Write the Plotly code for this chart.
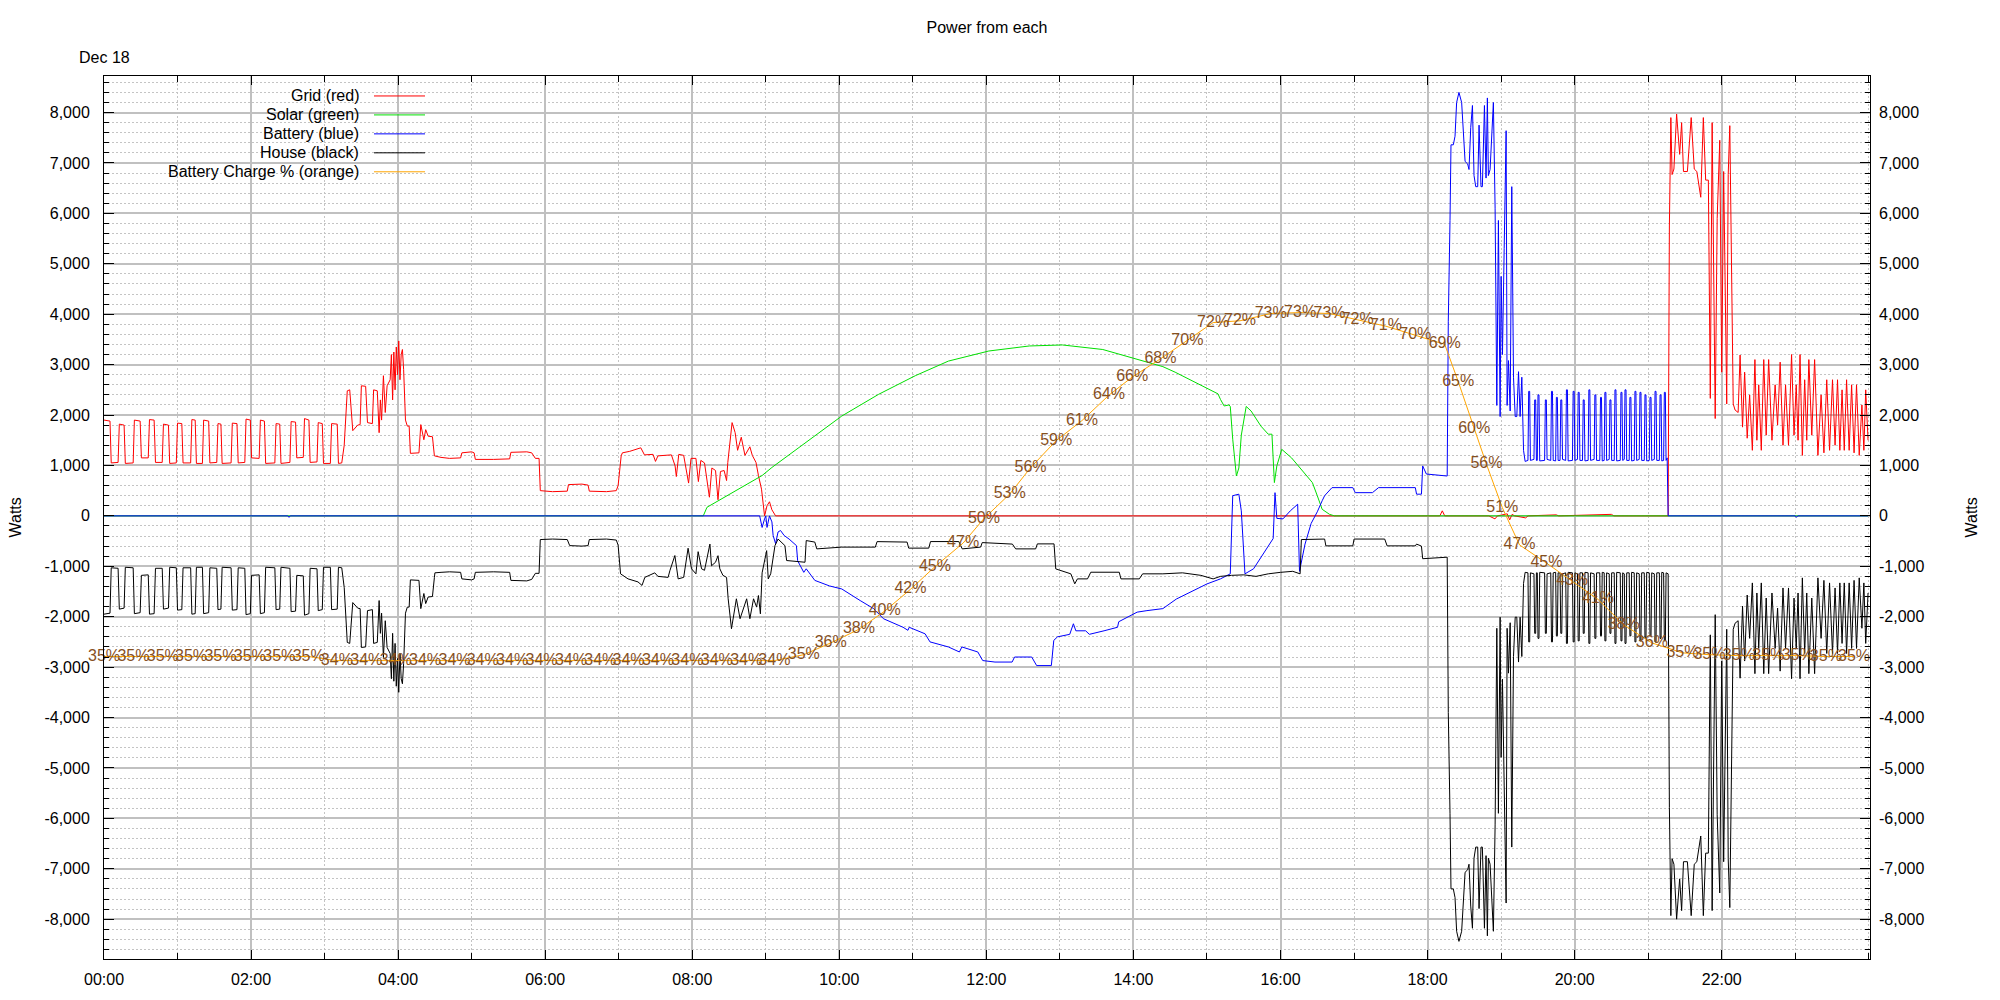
import plotly.graph_objects as go

# ---------------- data (time = minutes after midnight, values = watts) ----------------
grid_pts = [
    (0, 1900), (4.9, 1880), (5.9, 1050), (11.5, 1060), (12.5, 1820), (16.4, 1800), (17.4, 1040),
    (23.8, 1050), (24.8, 1900), (29.5, 1880), (30.5, 1150), (36.1, 1150), (37.1, 1910), (40.9, 1900),
    (42, 1060), (47.5, 1060), (48.5, 1820), (52.6, 1800), (53.6, 1040), (59, 1050), (60, 1840),
    (63.5, 1830), (64.5, 1050), (70.7, 1050), (71.7, 1910), (74.4, 1900), (75.4, 1040), (80.3, 1040),
    (81.3, 1900), (85.4, 1880), (86.4, 1050), (92, 1060), (93, 1830), (95.4, 1820), (96.4, 1040),
    (103.7, 1050), (104.7, 1840), (108.5, 1830), (109.5, 1050), (114.9, 1060), (115.9, 1920),
    (119.4, 1900), (120.4, 1150), (126.6, 1140), (127.6, 1900), (130.9, 1880), (131.9, 1040),
    (139.4, 1050), (140.4, 1830), (143.4, 1820), (144.4, 1040), (151.7, 1060), (152.7, 1870),
    (156.3, 1860), (157.3, 1150), (162.6, 1160), (163.6, 1930), (167.2, 1900), (168.2, 1060),
    (173.8, 1070), (174.8, 1850), (178.1, 1830), (179.1, 1040), (184.7, 1040), (185.7, 1830),
    (190.3, 1820), (191.3, 1040), (194, 1050),
    (196, 1400), (198.5, 2480), (200.5, 2500), (203, 1690), (207, 1800), (209, 1810), (210, 2580),
    (213.5, 2570), (215, 1850), (219, 1830), (220, 2500), (223, 2480), (224.5, 1650), (225.5, 2300),
    (226.5, 1900), (228, 2780), (229.5, 2050), (231, 2580), (233.5, 2700), (234.5, 3200), (235.5, 2300),
    (236.5, 3250), (237.5, 2500), (238.5, 3350), (239.5, 2800), (240.5, 3470), (241.5, 2700),
    (242.5, 3200), (243.5, 3300), (244.5, 2900), (246, 1900), (247.5, 1780), (249, 1780), (250, 1240),
    (257, 1250), (258.5, 1810), (261, 1510), (262.5, 1710), (264.5, 1580), (268, 1570), (269.6, 1190),
    (275, 1160), (282, 1140), (291, 1150), (292, 1250), (300, 1270), (302, 1250), (303, 1120),
    (318, 1120), (331, 1130), (332, 1260), (345, 1270), (349, 1250), (352, 1140), (355, 1140),
    (356, 500), (366, 480), (378, 490), (379, 620), (390, 630), (395, 610), (396, 490), (410, 480),
    (418, 500), (419.5, 600), (422, 1190), (423, 1250), (429, 1280), (438, 1350), (441, 1210),
    (448, 1220), (450, 1080), (452, 1190), (460, 1200), (463, 1210), (466, 990), (467, 780),
    (469, 1220), (473, 1200), (477, 650), (479, 1140), (483, 1140), (485, 680), (487, 1100),
    (490, 1050), (494, 370), (496, 950), (499, 900), (501, 320), (503, 880), (506, 900), (508, 700),
    (509, 1060), (512.5, 1850), (515, 1650), (517, 1300), (520, 1560), (523, 1200), (527, 1370),
    (529, 1200), (532, 1060), (534, 800), (536.5, 530), (539, 0), (541, 200), (543, 280), (545, 120),
    (548, 0), (720, 0), (721, 30), (722, 0), (1090, 0), (1092, 100), (1094, 0), (1130, 0),
    (1135, -60), (1137, 0), (1145, 40), (1147, -80), (1149, 30), (1151, 0), (1160, -40), (1162, 0),
    (1185, 20), (1187, 0), (1230, 30), (1232, 0), (1276.3, 0),
    (1277.3, 5750), (1278.5, 7900), (1279.5, 6770), (1281, 6880), (1283.2, 7970), (1285.7, 7170),
    (1287.3, 7800), (1288.8, 6830), (1292, 6830), (1295.1, 7900), (1297.6, 6880), (1299.7, 6830),
    (1302.9, 6320), (1305, 7900), (1306.9, 6660), (1309.1, 6660), (1310.7, 2330), (1312.2, 7800),
    (1314.7, 1930), (1316.3, 5900), (1318.4, 7450), (1320, 2850), (1321.6, 6830), (1324.1, 2220),
    (1325.3, 6770), (1326.6, 7740), (1328.4, 4500), (1329.4, 2220), (1330.9, 2100), (1333.4, 2050),
    (1335, 3190), (1337, 1760), (1338.7, 2850), (1340.8, 1540), (1342.8, 2400), (1345, 1300),
    (1347.1, 3100), (1348.7, 1500), (1350.2, 2600), (1352.3, 1300), (1354.3, 3100), (1356.3, 1600),
    (1358.3, 3100), (1361, 1500), (1363.6, 2600), (1365.6, 1800), (1367.7, 3050), (1370, 1400),
    (1372.1, 2600), (1374.5, 1400), (1377, 3200), (1379, 1600), (1380.8, 2600), (1382.3, 1500),
    (1383.9, 3200), (1385.8, 1200), (1387.7, 2700), (1389.4, 1500), (1391.1, 3100), (1393.5, 1600),
    (1395.8, 3100), (1398.5, 1200), (1401.1, 2400), (1403.4, 1250), (1405.7, 2700), (1408, 1300),
    (1410.4, 2700), (1412.5, 1400), (1414.5, 2700), (1416.4, 1300), (1418.2, 2500), (1420, 1300),
    (1421.9, 2700), (1424, 1300), (1426, 2600), (1428, 1250), (1430, 2600), (1432.2, 1200),
    (1434.4, 2200), (1436, 1300), (1437.5, 2500), (1439.4, 1500),
]

solar_pts = [
    (0, 0), (489, 0), (492, 170), (537, 800), (545, 960), (602, 1980), (632, 2410), (662, 2780),
    (689, 3070), (722, 3270), (755, 3370), (782, 3390), (815, 3300), (843, 3110), (864, 2960),
    (874, 2850), (895, 2600), (909, 2420), (911, 2310), (914, 2180), (918, 2200), (919, 2170),
    (921, 1520), (924, 790), (926, 950), (928, 1600), (932, 2170), (936, 2080), (944, 1780),
    (950, 1620), (953, 1620), (955, 660), (957, 990), (961, 1320), (969, 1150), (977, 925),
    (986, 660), (990, 400), (994, 130), (1000, 30), (1004, 0), (1439.4, 0),
]

battery_pts = [
    (0, 0), (150, 0), (151, -30), (152, 0), (535, 0), (537, -230), (539, -60), (540, 0), (541, -230),
    (543, 0), (545, -120), (546, -390), (548, -550), (550, -320), (552, -290), (555, -390),
    (559, -460), (563, -560), (565, -590), (566, -890), (571, -1120), (573, -1050), (580, -1280),
    (592, -1390), (602, -1450), (617, -1680), (628, -1840), (636, -2040), (652, -2210), (656, -2270),
    (657, -2210), (670, -2340), (674, -2500), (689, -2600), (698, -2700), (700, -2600), (713, -2700),
    (717, -2870), (727, -2900), (741, -2900), (743, -2800), (757, -2800), (761, -2970), (773, -2970),
    (775, -2470), (778, -2400), (788, -2350), (791, -2140), (793, -2280), (801, -2280), (804, -2350),
    (816, -2280), (827, -2210), (828, -2100), (843, -1910), (851, -1880), (864, -1840), (875, -1650),
    (888, -1500), (900, -1350), (911, -1250), (919, -1150), (921, 400), (926, 430), (928, 100),
    (931, -1150), (938, -1050), (945, -800), (950, -600), (954, -450), (955.5, 460), (957, -50),
    (962, -60), (968, 100), (972, 200), (974, 230), (975.5, -1100), (980, -560), (985, -150),
    (990, 80), (994, 300), (996, 400), (1002, 560), (1019, 560), (1021, 460), (1035, 460),
    (1040, 560), (1070, 560), (1071, 430), (1075, 430), (1076, 990), (1079, 830), (1096, 790),
    (1096.9, 3860), (1098.3, 5860), (1099.1, 7360), (1101, 7360), (1102.4, 7530), (1103.7, 8200),
    (1105.6, 8400), (1107.8, 8200), (1109.2, 7530), (1110.6, 7030), (1112.7, 6980), (1113.8, 6870),
    (1115.2, 7700), (1116.6, 8140), (1117.9, 6750), (1119.3, 6530), (1120.9, 6530), (1122, 7750),
    (1123.6, 6530), (1124.7, 6530), (1126.4, 8140), (1127.7, 6700), (1128.8, 8290), (1129.6, 6750),
    (1131, 6870), (1132.9, 7980), (1133.7, 8200), (1135.1, 6090), (1136.5, 2190), (1137.8, 5860),
    (1139.2, 1970), (1140, 4750), (1141.1, 3200), (1142.5, 5300), (1144.1, 7640), (1144.9, 2190),
    (1146, 3080), (1147.4, 2080), (1148.7, 6530), (1150.1, 2750), (1151.5, 1970), (1152.8, 1970),
    (1154.2, 2860), (1155.5, 1970), (1156.9, 2750), (1158.3, 1300), (1159.6, 1080),
    (1161.9, 1100), (1162.5, 2470), (1163.3, 2470), (1163.9, 1100),
    (1166.8, 1120), (1167.4, 2300), (1168.2, 2300), (1168.8, 1100),
    (1169.5, 1100), (1170.1, 2400), (1170.9, 2400), (1171.5, 1090),
    (1175.5, 1100), (1176.1, 2300), (1176.9, 2300), (1177.5, 1120),
    (1180.5, 1100), (1181.1, 2470), (1181.9, 2470), (1182.5, 1100),
    (1184.5, 1090), (1185.1, 2350), (1185.9, 2350), (1186.5, 1100),
    (1188.1, 1100), (1188.7, 2300), (1189.5, 2300), (1190.1, 1120),
    (1192.7, 1100), (1193.3, 2500), (1194.1, 2500), (1194.7, 1090),
    (1198.2, 1100), (1198.8, 2470), (1199.6, 2470), (1200.2, 1100),
    (1202.3, 1120), (1202.9, 2450), (1203.7, 2450), (1204.3, 1100),
    (1206.4, 1100), (1207.0, 2300), (1207.8, 2300), (1208.4, 1090),
    (1211.0, 1100), (1211.6, 2500), (1212.4, 2500), (1213.0, 1100),
    (1215.9, 1120), (1216.5, 2400), (1217.3, 2400), (1217.9, 1100),
    (1220.5, 1100), (1221.1, 2350), (1221.9, 2350), (1222.5, 1090),
    (1224.1, 1100), (1224.7, 2450), (1225.5, 2450), (1226.1, 1100),
    (1228.2, 1120), (1228.8, 2300), (1229.6, 2300), (1230.2, 1100),
    (1232.3, 1100), (1232.9, 2500), (1233.7, 2500), (1234.3, 1090),
    (1237.2, 1100), (1237.8, 2450), (1238.6, 2450), (1239.2, 1100),
    (1240.5, 1120), (1241.1, 2500), (1241.9, 2500), (1242.5, 1100),
    (1244.5, 1100), (1245.1, 2350), (1245.9, 2350), (1246.5, 1090),
    (1248.6, 1100), (1249.2, 2470), (1250.0, 2470), (1250.6, 1100),
    (1252.7, 1120), (1253.3, 2450), (1254.1, 2450), (1254.7, 1100),
    (1256.8, 1100), (1257.4, 2400), (1258.2, 2400), (1258.8, 1090),
    (1260.9, 1100), (1261.5, 2350), (1262.3, 2350), (1262.9, 1100),
    (1265.0, 1120), (1265.6, 2470), (1266.4, 2470), (1267.0, 1100),
    (1269.1, 1100), (1269.7, 2400), (1270.5, 2400), (1271.1, 1090),
    (1272.6, 1100), (1273.2, 2450), (1274.0, 2450), (1274.6, 1100),
    (1275.5, 1150), (1276.3, 0), (1380, 0), (1381, -30), (1382, 0), (1439.4, 0),
]

house_pts = [
    (0, -1950), (4.9, -1930), (5.9, -1030), (11.5, -1040), (12.5, -1850), (16.4, -1830), (17.4, -1020),
    (23.8, -1030), (24.8, -1940), (29.5, -1920), (30.5, -1180), (36.1, -1170), (37.1, -1950),
    (40.9, -1940), (42, -1040), (47.5, -1040), (48.5, -1850), (52.6, -1830), (53.6, -1020), (59, -1030),
    (60, -1870), (63.5, -1860), (64.5, -1030), (70.7, -1030), (71.7, -1950), (74.4, -1940),
    (75.4, -1020), (80.3, -1020), (81.3, -1940), (85.4, -1920), (86.4, -1030), (92, -1040),
    (93, -1860), (95.4, -1850), (96.4, -1020), (103.7, -1030), (104.7, -1870), (108.5, -1860),
    (109.5, -1030), (114.9, -1040), (115.9, -1960), (119.4, -1940), (120.4, -1180), (126.6, -1170),
    (127.6, -1940), (130.9, -1920), (131.9, -1020), (139.4, -1030), (140.4, -1860), (143.4, -1850),
    (144.4, -1020), (151.7, -1040), (152.7, -1900), (156.3, -1890), (157.3, -1180), (162.6, -1190),
    (163.6, -1970), (167.2, -1940), (168.2, -1040), (173.8, -1050), (174.8, -1880), (178.1, -1860),
    (179.1, -1020), (184.7, -1020), (185.7, -1860), (190.3, -1850), (191.3, -1020), (194, -1030),
    (196, -1420), (198.5, -2510), (200.5, -2530), (203, -1720), (207, -1830), (209, -1840),
    (210, -2610), (213.5, -2600), (215, -1880), (219, -1860), (220, -2530), (223, -2510),
    (224.5, -1680), (225.5, -2330), (226.5, -1930), (228, -2810), (229.5, -2080), (231, -2610),
    (233.5, -2730), (234.5, -3230), (235.5, -2330), (236.5, -3280), (237.5, -2530), (238.5, -3380),
    (239.5, -2830), (240.5, -3500), (241.5, -2730), (242.5, -3230), (243.5, -3330), (244.5, -2930),
    (246, -1930), (247.5, -1810), (249, -1810), (250, -1270), (257, -1280), (258.5, -1840),
    (261, -1540), (262.5, -1740), (264.5, -1610), (268, -1600), (269.6, -1220), (270, -1130),
    (275, -1120), (282, -1110), (291, -1120), (292, -1250), (300, -1270), (302, -1250), (303, -1120),
    (318, -1110), (331, -1120), (332, -1280), (345, -1290), (349, -1260), (352, -1140), (355, -1140),
    (356, -470), (366, -460), (378, -470), (380, -590), (390, -600), (395, -590), (396, -470),
    (410, -460), (418, -480), (419.5, -580), (421.5, -1150), (427.6, -1250), (435.7, -1310),
    (439, -1380), (441.3, -1220), (449.4, -1130), (452, -1200), (460.3, -1220), (461.7, -1090),
    (465.8, -787), (468.5, -1250), (473, -1220), (476.6, -642), (479.4, -1050), (483, -1150),
    (484.8, -710), (487.6, -1050), (490, -1080), (494.4, -560), (495.7, -990), (499, -920),
    (501, -790), (502.5, -1050), (505, -1180), (508, -1220), (509.3, -1645), (512, -2239),
    (513.5, -2040), (516, -1645), (519, -2040), (521.6, -1840), (524.4, -1645), (527, -2040),
    (530, -1645), (532.5, -1810), (534, -1580), (535.6, -1943), (537, -1130), (540.7, -690),
    (542, -1250), (544, -1150), (547.5, -590), (550, -460), (553, -530), (555.6, -590), (557, -886),
    (572, -920), (573, -490), (580, -520), (581.6, -655), (602, -620), (629.4, -620), (630.8, -511),
    (655.3, -520), (656.6, -640), (673, -640), (674.4, -510), (697.5, -510), (700.3, -655),
    (715.3, -620), (716.6, -530), (741.2, -560), (743.9, -655), (760.2, -655), (761.6, -556),
    (775.2, -556), (776.6, -1052), (788.9, -1150), (792.1, -1348), (794.3, -1250), (802.5, -1250),
    (805.2, -1118), (828.4, -1118), (829.8, -1250), (844.8, -1250), (847.5, -1150), (864, -1150),
    (880, -1130), (895, -1180), (905, -1250), (911, -1200), (920, -1180), (930, -1170), (940, -1200),
    (950, -1150), (960, -1120), (970, -1100), (976, -1150), (977, -470), (996, -460), (997, -595),
    (1019, -595), (1020, -460), (1045, -460), (1047, -595), (1070, -595), (1071, -560), (1075, -600),
    (1076, -850), (1096, -820),
    (1096.9, -3900), (1098.3, -5900), (1099.1, -7400), (1101, -7400), (1102.4, -7570), (1103.7, -8240),
    (1105.6, -8440), (1107.8, -8240), (1109.2, -7570), (1110.6, -7070), (1112.7, -7020), (1113.8, -6910),
    (1115.2, -7740), (1116.6, -8180), (1117.9, -6790), (1119.3, -6570), (1120.9, -6570), (1122, -7790),
    (1123.6, -6570), (1124.7, -6570), (1126.4, -8180), (1127.7, -6740), (1128.8, -8330),
    (1129.6, -6790), (1131, -6910), (1132.9, -8020), (1133.7, -8240), (1135.1, -6130), (1136.5, -2230),
    (1137.8, -5900), (1139.2, -2010), (1140, -4790), (1141.1, -3240), (1142.5, -5340), (1144.1, -7680),
    (1144.9, -2230), (1146, -3120), (1147.4, -2120), (1148.7, -6570), (1150.1, -2790), (1151.5, -2010),
    (1152.8, -2010), (1154.2, -2900), (1155.5, -2010), (1156.9, -2790), (1158.3, -1340), (1159.6, -1120),
    (1161.9, -1130), (1162.5, -2500), (1163.3, -2500), (1163.9, -1130),
    (1166.8, -1150), (1167.4, -2330), (1168.2, -2330), (1168.8, -1130),
    (1169.5, -1130), (1170.1, -2430), (1170.9, -2430), (1171.5, -1120),
    (1175.5, -1130), (1176.1, -2330), (1176.9, -2330), (1177.5, -1150),
    (1180.5, -1130), (1181.1, -2500), (1181.9, -2500), (1182.5, -1130),
    (1184.5, -1120), (1185.1, -2380), (1185.9, -2380), (1186.5, -1130),
    (1188.1, -1130), (1188.7, -2330), (1189.5, -2330), (1190.1, -1150),
    (1192.7, -1130), (1193.3, -2530), (1194.1, -2530), (1194.7, -1120),
    (1198.2, -1130), (1198.8, -2500), (1199.6, -2500), (1200.2, -1130),
    (1202.3, -1150), (1202.9, -2480), (1203.7, -2480), (1204.3, -1130),
    (1206.4, -1130), (1207.0, -2330), (1207.8, -2330), (1208.4, -1120),
    (1211.0, -1130), (1211.6, -2530), (1212.4, -2530), (1213.0, -1130),
    (1215.9, -1150), (1216.5, -2430), (1217.3, -2430), (1217.9, -1130),
    (1220.5, -1130), (1221.1, -2380), (1221.9, -2380), (1222.5, -1120),
    (1224.1, -1130), (1224.7, -2480), (1225.5, -2480), (1226.1, -1130),
    (1228.2, -1150), (1228.8, -2330), (1229.6, -2330), (1230.2, -1130),
    (1232.3, -1130), (1232.9, -2530), (1233.7, -2530), (1234.3, -1120),
    (1237.2, -1130), (1237.8, -2480), (1238.6, -2480), (1239.2, -1130),
    (1240.5, -1150), (1241.1, -2530), (1241.9, -2530), (1242.5, -1130),
    (1244.5, -1130), (1245.1, -2380), (1245.9, -2380), (1246.5, -1120),
    (1248.6, -1130), (1249.2, -2500), (1250.0, -2500), (1250.6, -1130),
    (1252.7, -1150), (1253.3, -2480), (1254.1, -2480), (1254.7, -1130),
    (1256.8, -1130), (1257.4, -2430), (1258.2, -2430), (1258.8, -1120),
    (1260.9, -1130), (1261.5, -2380), (1262.3, -2380), (1262.9, -1130),
    (1265.0, -1150), (1265.6, -2500), (1266.4, -2500), (1267.0, -1130),
    (1269.1, -1130), (1269.7, -2430), (1270.5, -2430), (1271.1, -1120),
    (1272.6, -1130), (1273.2, -2480), (1274.0, -2480), (1274.6, -1130),
    (1276.3, -1150), (1277.3, -5780), (1278.5, -7930), (1279.5, -6800), (1281, -6910), (1283.2, -8000),
    (1285.7, -7200), (1287.3, -7830), (1288.8, -6860), (1292, -6860), (1295.1, -7930), (1297.6, -6910),
    (1299.7, -6860), (1302.9, -6350), (1305, -7930), (1306.9, -6690), (1309.1, -6690), (1310.7, -2360),
    (1312.2, -7830), (1314.7, -1960), (1316.3, -5930), (1318.4, -7480), (1320, -2880), (1321.6, -6860),
    (1324.1, -2250), (1325.3, -6800), (1326.6, -7770), (1328.4, -4530), (1329.4, -2250),
    (1330.9, -2130), (1333.4, -2080), (1335, -3220), (1337, -1790), (1338.7, -2880), (1340.8, -1570),
    (1342.8, -2430), (1345, -1330), (1347.1, -3130), (1348.7, -1530), (1350.2, -2630), (1352.3, -1330),
    (1354.3, -3130), (1356.3, -1630), (1358.3, -3130), (1361, -1530), (1363.6, -2630), (1365.6, -1830),
    (1367.7, -3080), (1370, -1430), (1372.1, -2630), (1374.5, -1430), (1377, -3230), (1379, -1630),
    (1380.8, -2630), (1382.3, -1530), (1383.9, -3230), (1385.8, -1230), (1387.7, -2730),
    (1389.4, -1530), (1391.1, -3130), (1393.5, -1630), (1395.8, -3130), (1398.5, -1230),
    (1401.1, -2430), (1403.4, -1280), (1405.7, -2730), (1408, -1330), (1410.4, -2730), (1412.5, -1430),
    (1414.5, -2730), (1416.4, -1330), (1418.2, -2530), (1420, -1330), (1421.9, -2730), (1424, -1330),
    (1426, -2630), (1428, -1280), (1430, -2630), (1432.2, -1230), (1434.4, -2230), (1436, -1330),
    (1437.5, -2530), (1439.4, -1530),
]

soc_minutes = [0, 24, 48, 71, 95, 119, 143, 167, 190, 214, 238, 262, 286, 309, 333, 357, 381, 405,
               428, 452, 476, 500, 524, 547, 571, 593, 616, 637, 658, 678, 701, 718, 739, 756, 777,
               798, 820, 839, 862, 884, 905, 927, 952, 976, 1000, 1023, 1046, 1070, 1094, 1105, 1118,
               1128, 1141, 1155, 1177, 1198, 1219, 1240, 1263, 1288, 1310, 1334, 1358, 1382, 1405, 1428]
soc_percent = [34.8, 34.8, 34.8, 34.8, 34.8, 34.8, 34.8, 34.8, 34.35, 34.35, 34.35, 34.35, 34.35,
               34.35, 34.35, 34.35, 34.35, 34.35, 34.35, 34.35, 34.35, 34.35, 34.35, 34.35, 35.0,
               36.3, 37.8, 39.8, 42.2, 44.7, 47.3, 50.0, 52.7, 55.6, 58.6, 60.8, 63.6, 65.6, 67.6,
               69.6, 71.6, 71.8, 72.6, 72.7, 72.6, 71.9, 71.2, 70.2, 69.2, 65.1, 59.9, 56.0, 51.2,
               47.1, 45.1, 43.1, 41.1, 38.3, 36.3, 35.2, 35.0, 34.9, 34.9, 34.9, 34.8, 34.8]

x_tick_minutes = [0, 120, 240, 360, 480, 600, 720, 840, 960, 1080, 1200, 1320]
x_tick_labels = ["00:00", "02:00", "04:00", "06:00", "08:00", "10:00", "12:00", "14:00", "16:00",
                 "18:00", "20:00", "22:00"]
y_tick_values = [-8000, -7000, -6000, -5000, -4000, -3000, -2000, -1000, 0, 1000, 2000, 3000, 4000,
                 5000, 6000, 7000, 8000]
y_tick_labels = ["-8,000", "-7,000", "-6,000", "-5,000", "-4,000", "-3,000", "-2,000", "-1,000", "0",
                 "1,000", "2,000", "3,000", "4,000", "5,000", "6,000", "7,000", "8,000"]

series_names = ["Grid (red)", "Solar (green)", "Battery (blue)", "House (black)",
                "Battery Charge % (orange)"]
series_colors = ["#ff0000", "#00e000", "#0000ff", "#000000", "#ffa500"]

# ---------------- layout constants ----------------
Y_RANGE = [-8790, 8725]
X_RANGE = [0, 1441]
W_PER_PCT = 180.0      # how the charge % is scaled onto the watts axis
PCT_AT_ZERO = 50.3
FONT = "Liberation Sans, Arial, sans-serif"
LABEL_BROWN = "#87501e"
BODY = 8               # the html page has an 8px body margin

FIG_W, FIG_H = 2000 - BODY, 1000 - BODY
plot_l, plot_r, plot_t, plot_b = 104, 1870, 76, 961      # page pixels of the plot frame


def split(pts):
    return [p[0] for p in pts], [p[1] for p in pts]


fig = go.Figure()
for pts, name, color in zip([grid_pts, solar_pts, battery_pts, house_pts],
                            series_names[:4], series_colors[:4]):
    t, w = split(pts)
    fig.add_trace(go.Scatter(x=t, y=w, mode="lines", name=name,
                             line=dict(color=color, width=1), showlegend=False))

fig.add_trace(go.Scatter(
    x=soc_minutes, y=soc_percent, yaxis="y3", mode="lines+text",
    text=[f"{p:.0f}%" for p in soc_percent], textposition="middle center",
    textfont=dict(family=FONT, size=16, color=LABEL_BROWN),
    line=dict(color=series_colors[4], width=1), cliponaxis=False,
    name=series_names[4], showlegend=False))

# dummy trace so that yaxis2 renders its labels
fig.add_trace(go.Scatter(x=[None], y=[None], yaxis="y2", showlegend=False, hoverinfo="skip"))

grid_major = "#c0c0c0"
grid_minor = "#c4c4c4"
axis_font = dict(family=FONT, size=16, color="#000000")

fig.update_layout(
    width=FIG_W, height=FIG_H, autosize=False,
    margin=dict(l=plot_l - BODY, r=2000 - plot_r, t=plot_t - BODY, b=1000 - plot_b, pad=0),
    paper_bgcolor="white", plot_bgcolor="white",
    font=axis_font,
    title=dict(text="Power from each", x=0.5, xanchor="center", xref="paper",
               y=1 - (27 - BODY) / FIG_H, yanchor="middle", yref="container",
               font=dict(family=FONT, size=16)),
    xaxis=dict(range=X_RANGE, tickvals=x_tick_minutes, ticktext=x_tick_labels,
               showgrid=True, gridcolor=grid_major, gridwidth=2,
               ticks="inside", ticklen=9, tickcolor="black", tickwidth=1,
               showline=True, linecolor="black", linewidth=1, mirror="ticks",
               minor=dict(dtick=60, tick0=0, ticks="inside", ticklen=6, tickcolor="black",
                          showgrid=True, gridcolor=grid_minor, griddash="2px,2px", gridwidth=1),
               zeroline=False, tickfont=axis_font, ticklabelstandoff=6),
    yaxis=dict(range=Y_RANGE, tickvals=y_tick_values, ticktext=y_tick_labels,
               showgrid=True, gridcolor=grid_major, gridwidth=2,
               ticks="inside", ticklen=10, tickcolor="black", tickwidth=1,
               showline=True, linecolor="black", linewidth=1, mirror="ticks",
               minor=dict(dtick=200, tick0=0, ticks="inside", ticklen=5, tickcolor="black",
                          showgrid=True, gridcolor=grid_minor, griddash="2px,2px", gridwidth=1),
               zeroline=False, tickfont=axis_font, ticklabelstandoff=10),
    yaxis2=dict(range=Y_RANGE, tickvals=y_tick_values, ticktext=y_tick_labels, overlaying="y",
                side="right", showgrid=False, zeroline=False, ticks="", showline=False,
                tickfont=axis_font, ticklabelstandoff=8),
    yaxis3=dict(range=[Y_RANGE[0] / W_PER_PCT + PCT_AT_ZERO, Y_RANGE[1] / W_PER_PCT + PCT_AT_ZERO],
                overlaying="y", visible=False),
    showlegend=False,
)

# ---------------- annotations (positions given in page pixels) ----------------
pw, ph = plot_r - plot_l, plot_b - plot_t


def px(xp):
    return (xp - plot_l) / pw


def py(yp):
    return (plot_b - yp) / ph


anns = [
    dict(text="Dec 18", x=px(77), y=py(57), xanchor="left", yanchor="middle"),
    dict(text="Watts", x=px(15), y=0.5, textangle=-90, xanchor="center", yanchor="middle"),
    dict(text="Watts", x=px(1971), y=0.5, textangle=-90, xanchor="center", yanchor="middle"),
]
legend_rows = [96, 115, 134, 153, 172]
shapes = []
for name, color, row in zip(series_names, series_colors, legend_rows):
    anns.append(dict(text=name, x=px(361), y=py(row), xanchor="right", yanchor="middle"))
    shapes.append(dict(type="line", xref="paper", yref="paper", x0=px(374), x1=px(425),
                       y0=py(row), y1=py(row), line=dict(color=color, width=1)))
for a in anns:
    a.update(xref="paper", yref="paper", showarrow=False, font=dict(family=FONT, size=16, color="black"))
fig.update_layout(annotations=anns, shapes=shapes)

fig.write_html("out.html")
